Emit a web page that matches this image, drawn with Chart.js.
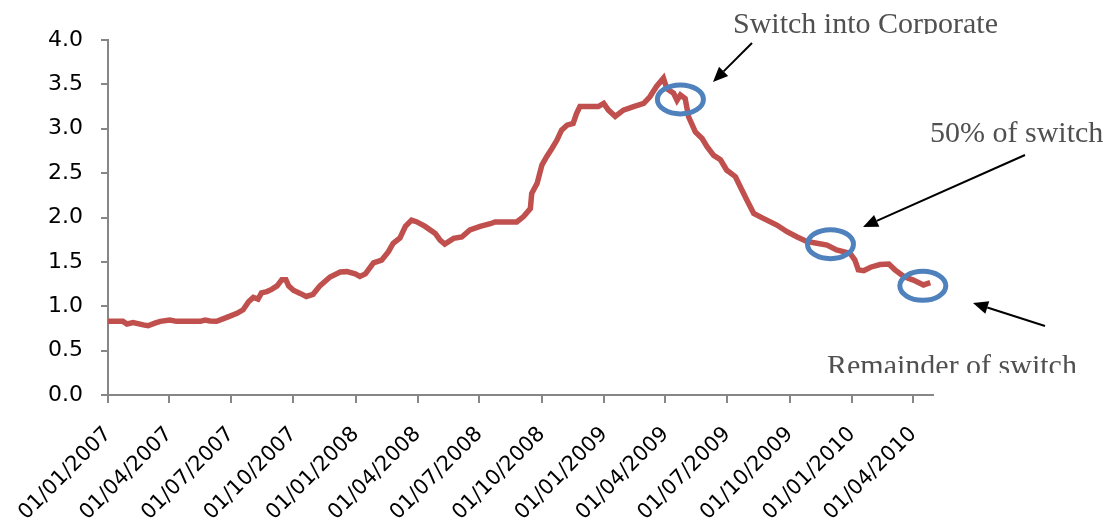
<!DOCTYPE html>
<html lang="en">
<head>
    <meta charset="UTF-8">
    <title>Switch chart</title>
    <script src="https://cdn.jsdelivr.net/npm/chart.js"></script>
    <style>
        body {
            margin: 0;
            background: #fff;
        }

        .chart-box {
            width: 1109px;
            height: 523px;
        }
    </style>
</head>
<body>
    <div class="chart-box">
        <canvas id="switchChart"></canvas>
    </div>

    <script>
        // x values are days counted from 01/01/2007
        const days = [0, 22, 28, 37, 52, 59, 69, 77, 91, 101, 136, 143, 150, 160, 175, 190, 199, 207, 214, 221,
            226, 234, 241, 249, 256, 262, 266, 273, 283, 292, 302, 312, 327, 342, 352, 364, 371, 379, 391, 403,
            413, 420, 430, 438, 447, 455, 467, 482, 489, 496, 509, 521, 533, 548, 563, 570, 602, 612, 622, 624,
            632, 639, 646, 654, 661, 668, 676, 685, 690, 695, 715, 722, 730, 737, 747, 759, 774, 789, 798, 808,
            818, 823, 833, 838, 843, 850, 855, 865, 875, 882, 892, 902, 911, 924, 931, 941, 951, 965, 985, 1000,
            1015, 1029, 1044, 1059, 1073, 1093, 1100, 1105, 1113, 1123, 1137, 1150, 1159, 1172, 1186, 1201, 1211];
        const values = [0.83, 0.83, 0.80, 0.815, 0.79, 0.78, 0.81, 0.83, 0.845, 0.83, 0.83, 0.845, 0.835, 0.83, 0.875, 0.92, 0.96, 1.05, 1.10, 1.08,
            1.15, 1.165, 1.19, 1.23, 1.30, 1.30, 1.23, 1.18, 1.145, 1.11, 1.135, 1.23, 1.33, 1.385, 1.39, 1.365, 1.335, 1.365, 1.49, 1.52,
            1.615, 1.71, 1.77, 1.90, 1.97, 1.95, 1.90, 1.82, 1.745, 1.70, 1.765, 1.78, 1.86, 1.90, 1.93, 1.95, 1.95, 2.01, 2.10, 2.27,
            2.385, 2.59, 2.685, 2.78, 2.87, 2.985, 3.04, 3.06, 3.17, 3.25, 3.25, 3.25, 3.285, 3.21, 3.14, 3.21, 3.25, 3.285, 3.36, 3.48,
            3.57, 3.45, 3.40, 3.32, 3.38, 3.34, 3.135, 2.965, 2.89, 2.80, 2.70, 2.65, 2.535, 2.46, 2.35, 2.195, 2.045, 1.99, 1.915, 1.84,
            1.78, 1.73, 1.71, 1.69, 1.635, 1.595, 1.52, 1.41, 1.40, 1.44, 1.47, 1.475, 1.41, 1.335, 1.295, 1.24, 1.265];

        const tickLabels = ['01/01/2007', '01/04/2007', '01/07/2007', '01/10/2007', '01/01/2008', '01/04/2008', '01/07/2008',
            '01/10/2008', '01/01/2009', '01/04/2009', '01/07/2009', '01/10/2009', '01/01/2010', '01/04/2010'];

        // turn dd/mm/yyyy into days since the first label
        function toDay(label) {
            const p = label.split('/');
            const t = Date.UTC(+p[2], +p[1] - 1, +p[0]);
            return Math.round((t - Date.UTC(2007, 0, 1)) / 86400000);
        }
        const tickDays = tickLabels.map(toDay);

        // circled events on the line
        const circled = [
            { day: 843, value: 3.33 },
            { day: 1064, value: 1.70 },
            { day: 1200, value: 1.23 }
        ];

        // text notes, the arrows point from them to the circles
        const notes = [
            { text: 'Switch into Corporate', x: 733, y: 33, clipBottom: 34 },
            { text: '50% of switch', x: 930, y: 142, clipBottom: null },
            { text: 'Remainder of switch', x: 827, y: 375, clipBottom: 373 }
        ];
        const arrows = [
            { from: [752, 43], to: [713, 82] },
            { from: [1025, 155], to: [863, 227] },
            { from: [1045, 326], to: [973, 303] }
        ];

        const calloutPlugin = {
            id: 'callouts',
            afterDatasetsDraw(chart) {
                const ctx = chart.ctx;
                const xs = chart.scales.x;
                const ys = chart.scales.y;
                ctx.save();

                ctx.strokeStyle = '#4F81BD';
                ctx.lineWidth = 5;
                circled.forEach(c => {
                    ctx.beginPath();
                    ctx.ellipse(xs.getPixelForValue(c.day), ys.getPixelForValue(c.value), 23, 14.5, 0, 0, Math.PI * 2);
                    ctx.stroke();
                });

                ctx.strokeStyle = '#000';
                ctx.fillStyle = '#000';
                ctx.lineWidth = 2;
                arrows.forEach(a => {
                    const [x1, y1] = a.from;
                    const [x2, y2] = a.to;
                    const ang = Math.atan2(y2 - y1, x2 - x1);
                    const len = 15, half = 6.5;
                    const bx = x2 - len * Math.cos(ang);
                    const by = y2 - len * Math.sin(ang);
                    ctx.beginPath();
                    ctx.moveTo(x1, y1);
                    ctx.lineTo(bx, by);
                    ctx.stroke();
                    ctx.beginPath();
                    ctx.moveTo(x2, y2);
                    ctx.lineTo(bx + half * Math.sin(ang), by - half * Math.cos(ang));
                    ctx.lineTo(bx - half * Math.sin(ang), by + half * Math.cos(ang));
                    ctx.closePath();
                    ctx.fill();
                });

                ctx.fillStyle = '#505050';
                ctx.font = '30px "Liberation Serif"';
                ctx.textBaseline = 'alphabetic';
                ctx.textAlign = 'left';
                notes.forEach(n => {
                    ctx.save();
                    if (n.clipBottom !== null) {
                        ctx.beginPath();
                        ctx.rect(0, 0, chart.width, n.clipBottom);
                        ctx.clip();
                    }
                    ctx.fillText(n.text, n.x, n.y);
                    ctx.restore();
                });

                ctx.restore();
            }
        };

        const axisGrey = '#868686';

        new Chart(document.getElementById('switchChart'), {
            type: 'line',
            data: {
                datasets: [{
                    data: days.map((d, i) => ({ x: d, y: values[i] })),
                    borderColor: '#C0504D',
                    borderWidth: 5.5,
                    pointRadius: 0,
                    tension: 0,
                    fill: false
                }]
            },
            options: {
                responsive: true,
                maintainAspectRatio: false,
                animation: false,
                layout: {
                    padding: { top: 40, right: 176, bottom: 0, left: 0 }
                },
                plugins: {
                    legend: { display: false },
                    tooltip: { enabled: false }
                },
                scales: {
                    x: {
                        type: 'linear',
                        min: 0,
                        max: 1215,
                        afterBuildTicks: scale => {
                            scale.ticks = tickDays.map(v => ({ value: v }));
                        },
                        afterFit: scale => {
                            scale.height = 128;
                            scale.paddingLeft = 0;
                            scale.paddingRight = 0;
                        },
                        grid: {
                            drawOnChartArea: false,
                            drawTicks: true,
                            tickLength: 8,
                            color: axisGrey,
                            lineWidth: 2
                        },
                        border: { color: axisGrey, width: 2 },
                        ticks: {
                            autoSkip: false,
                            minRotation: 45,
                            maxRotation: 45,
                            padding: 19,
                            color: '#000',
                            font: { family: '"DejaVu Sans"', size: 21 },
                            callback: (v, i) => tickLabels[i]
                        }
                    },
                    y: {
                        min: 0,
                        max: 4,
                        afterFit: scale => {
                            scale.width = 108;
                        },
                        grid: {
                            drawOnChartArea: false,
                            drawTicks: true,
                            tickLength: 7,
                            color: axisGrey,
                            lineWidth: 2
                        },
                        border: { color: axisGrey, width: 2 },
                        ticks: {
                            stepSize: 0.5,
                            padding: 18,
                            color: '#000',
                            font: { family: '"DejaVu Sans"', size: 22 },
                            callback: v => v.toFixed(1)
                        }
                    }
                }
            },
            plugins: [calloutPlugin]
        });
    </script>
</body>
</html>
